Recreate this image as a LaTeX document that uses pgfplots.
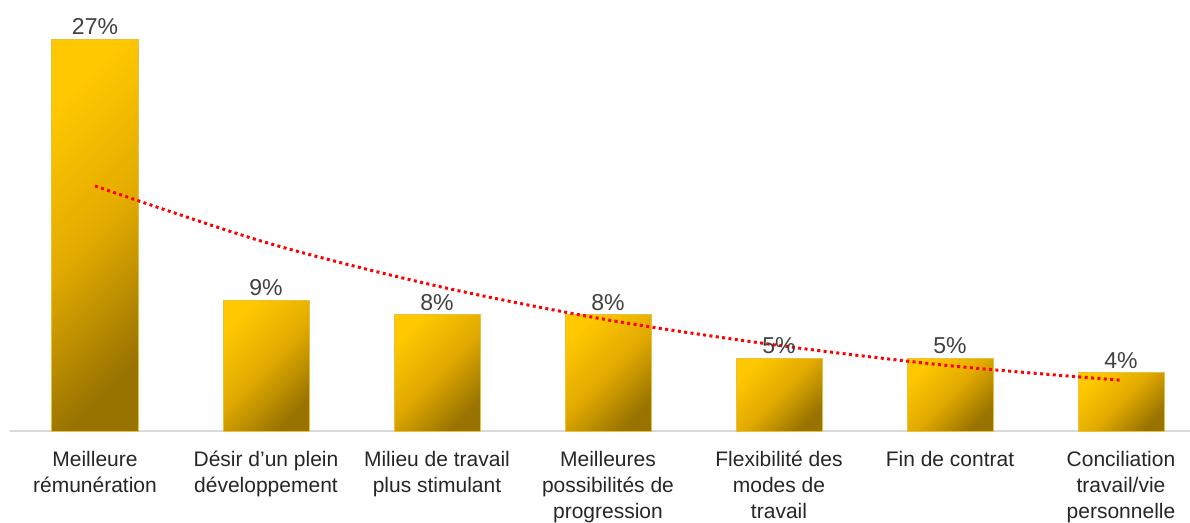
\documentclass[border=0pt]{standalone}
\usepackage{fontspec}
\setmainfont{Liberation Sans}
\usepackage{pgfplots}
\pgfplotsset{compat=1.18}
\definecolor{barlight}{HTML}{FFC800}
\definecolor{barmid}{HTML}{E2AA00}
\definecolor{bardark}{HTML}{987300}
\definecolor{baredge}{HTML}{E8C040}
\definecolor{txt}{HTML}{404040}
\definecolor{axline}{HTML}{D9D9D9}
\pgfplotsset{
  goldbar/.style={ybar, bar width=43bp, bar shift=0pt, draw=baredge, line width=0.5bp,
    top color=barlight, bottom color=bardark, middle color=barmid, shading angle=45,
    nodes near coords={\pgfmathprintnumber{\pgfplotspointmeta}\%},
    nodes near coords style={anchor=south, inner sep=0pt, yshift=2bp, text=txt, font=\fontsize{11.5bp}{13bp}\selectfont},
    forget plot},
}
\begin{document}
\begin{tikzpicture}
\begin{axis}[
  at={(0,0)}, anchor=south west,
  x=85.5bp, y=7.25bp,
  xmin=-0.5, xmax=6.5, ymin=0, ymax=29,
  axis x line*=bottom, axis y line=none,
  x axis line style={draw=axline, line width=0.8bp},
  ytick=\empty,
  xtick={0,...,6},
  major tick length=0pt,
  /pgf/number format/assume math mode=true,
  xticklabels={Meilleure\\rémunération, Désir d'un plein\\développement, Milieu de travail\\plus stimulant, Meilleures\\possibilités de\\progression, Flexibilité des\\modes de\\travail, Fin de contrat, Conciliation\\travail/vie\\personnelle},
  xticklabel style={align=center, anchor=north, inner sep=0pt, yshift=-10bp, text=black!85, font=\fontsize{10.5bp}{13bp}\selectfont},
  clip=false,
]
\addplot[goldbar] coordinates {(0,27)};
\addplot[goldbar] coordinates {(1,9)};
\addplot[goldbar] coordinates {(2,8)};
\addplot[goldbar] coordinates {(3,8)};
\addplot[goldbar] coordinates {(4,5)};
\addplot[goldbar] coordinates {(5,5)};
\addplot[goldbar] coordinates {(6,4)};
\addplot[red, line width=1.5bp, dash pattern=on 1.5bp off 1.7bp, smooth, no marks]
  coordinates {(0,16.9) (1,13.0) (2,10.0) (3,7.66) (4,5.9) (5,4.5) (6,3.5)};
\end{axis}
\pgfresetboundingbox
\useasboundingbox (-4.75bp,-46bp) rectangle (590.25bp,215.5bp);
\end{tikzpicture}
\end{document}
